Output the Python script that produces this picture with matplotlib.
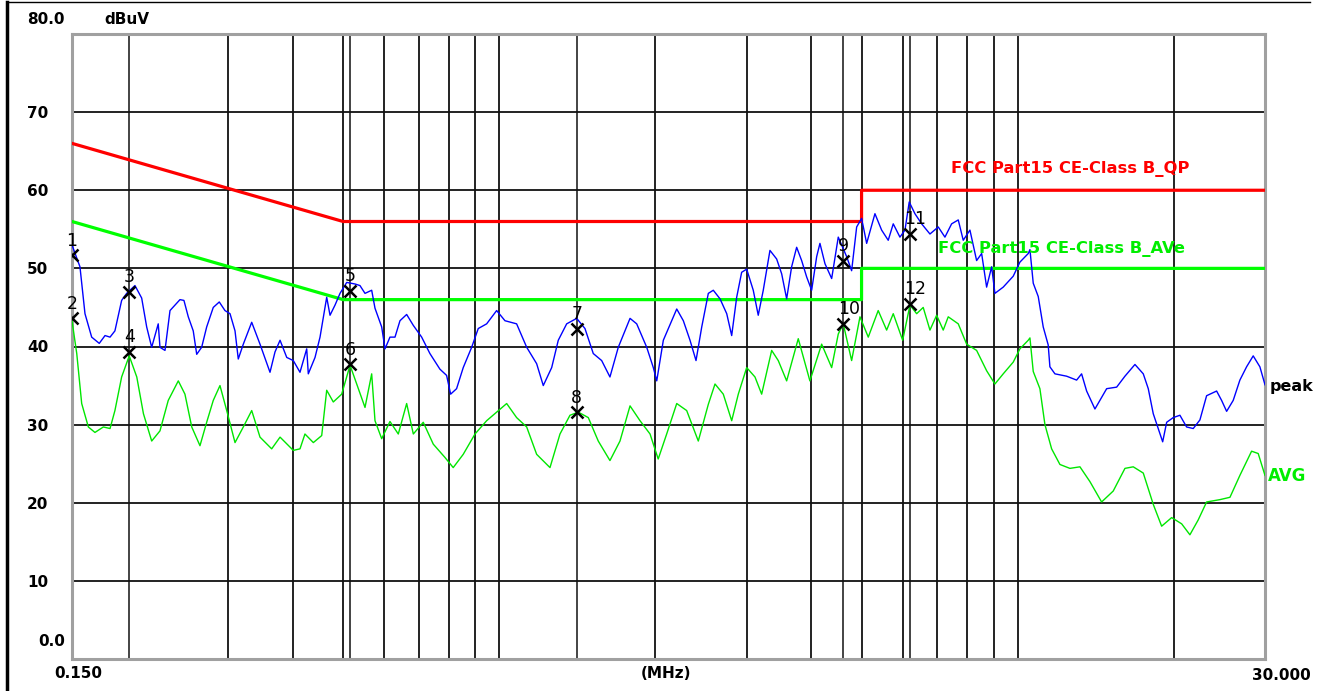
import matplotlib.pyplot as plt
from matplotlib.lines import Line2D
from matplotlib.ticker import NullLocator

peakFreq = [0.150, 0.1554, 0.1589, 0.1637, 0.1693, 0.1737, 0.1776, 0.1815, 0.1870, 0.1912,
            0.1984, 0.2044, 0.2090, 0.2137, 0.2200, 0.2217, 0.2267, 0.2318, 0.2423, 0.2466,
            0.2514, 0.2570, 0.2610, 0.2668, 0.2728, 0.2809, 0.2885, 0.2959, 0.3026, 0.3094,
            0.3139, 0.3210, 0.3332, 0.3457, 0.3614, 0.3695, 0.3779, 0.3893, 0.4008, 0.4129,
            0.4254, 0.4284, 0.4414, 0.4513, 0.4649, 0.4718, 0.4824, 0.4932, 0.5081, 0.5272,
            0.5389, 0.5511, 0.5677, 0.5761, 0.5935, 0.6023, 0.6157, 0.6296, 0.6437, 0.6631,
            0.6830, 0.7088, 0.7352, 0.7686, 0.7918, 0.8061, 0.8277, 0.8525, 0.885, 0.9113,
            0.9459, 0.9889, 1.0261, 1.0806, 1.1300, 1.1811, 1.2164, 1.2627, 1.3002, 1.3496,
            1.4109, 1.4638, 1.5188, 1.5765, 1.6356, 1.6973, 1.7882, 1.8420, 1.9257, 1.9830,
            2.0134, 2.0732, 2.2003, 2.2657, 2.3340, 2.3971, 2.4587, 2.5317, 2.5883, 2.6668,
            2.7473, 2.8086, 2.8715, 2.9357, 3.0020, 3.0909, 3.1601, 3.2313, 3.3288, 3.4293,
            3.5067, 3.5851, 3.6651, 3.7479, 3.8319, 3.9183, 4.0059, 4.0963, 4.1563, 4.2502,
            4.3785, 4.5087, 4.6798, 4.7844, 4.8924, 5.0015, 5.1145, 5.3062, 5.4663, 5.6286,
            5.7556, 5.9292, 6.0632, 6.1790, 6.3372, 6.5297, 6.7746, 7.0289, 7.2408, 7.4589,
            7.6821, 7.8540, 8.0909, 8.3348, 8.5229, 8.7134, 8.9103, 9.0405, 9.3798, 9.8063,
            10.102, 10.482, 10.562, 10.718, 10.958, 11.204, 11.454, 11.541, 11.802, 12.429,
            12.995, 13.286, 13.586, 14.096, 14.411, 14.849, 15.524, 16.106, 16.838, 17.472,
            17.864, 18.263, 18.675, 19.044, 19.385, 19.958, 20.559, 21.179, 21.812, 22.469,
            23.147, 24.200, 24.741, 25.299, 26.049, 26.834, 27.644, 28.469, 29.327, 30.0]
peakLevel = [53.0, 50.2, 44.2, 41.2, 40.4, 41.4, 41.2, 42.0, 45.9, 46.8,
             47.8, 46.2, 42.5, 39.9, 42.9, 39.9, 39.5, 44.6, 46.0, 45.9,
             43.8, 42.0, 39.0, 39.9, 42.5, 45.0, 45.7, 44.6, 44.2, 42.0,
             38.4, 40.3, 43.1, 40.3, 36.7, 39.3, 40.8, 38.6, 38.2, 36.7,
             39.7, 36.5, 38.6, 41.2, 46.3, 44.0, 45.3, 46.8, 48.2, 48.0,
             47.8, 46.8, 47.2, 44.9, 42.5, 39.7, 41.2, 41.2, 43.3, 44.1,
             42.7, 41.2, 39.1, 37.1, 36.3, 33.9, 34.6, 37.3, 39.9, 42.3,
             42.9, 44.6, 43.3, 42.9, 39.9, 37.8, 35.0, 37.3, 40.8, 42.9,
             43.6, 42.3, 39.1, 38.2, 36.1, 39.9, 43.6, 42.9, 39.9, 37.3,
             35.6, 40.8, 44.8, 43.3, 40.8, 38.2, 42.5, 46.8, 47.2, 46.1,
             44.2, 41.4, 46.3, 49.5, 49.9, 47.2, 44.0, 47.2, 52.3, 51.2,
             49.3, 46.1, 50.2, 52.7, 51.0, 48.9, 47.2, 51.5, 53.2, 50.6,
             48.7, 54.0, 51.5, 49.7, 55.3, 56.4, 53.2, 57.0, 54.9, 53.6,
             55.7, 54.0, 54.9, 58.5, 57.0, 55.7, 54.4, 55.3, 54.0, 55.7,
             56.2, 53.6, 54.9, 51.0, 51.9, 47.6, 50.2, 46.8, 47.6, 49.0,
             50.8, 51.9, 52.4, 48.1, 46.4, 42.5, 40.2, 37.4, 36.5, 36.2,
             35.7, 36.5, 34.3, 32.0, 33.1, 34.6, 34.8, 36.2, 37.7, 36.5,
             34.6, 31.4, 29.5, 27.8, 30.3, 30.9, 31.2, 29.7, 29.5, 30.6,
             33.7, 34.3, 33.1, 31.7, 33.1, 35.7, 37.4, 38.8, 37.4, 35.1]

avgFreq = [0.150, 0.1532, 0.1566, 0.1613, 0.1661, 0.1724, 0.1776, 0.1815, 0.1870, 0.1934,
           0.2000, 0.2060, 0.2137, 0.2217, 0.2300, 0.2405, 0.2477, 0.2553, 0.2648, 0.2728,
           0.2809, 0.2894, 0.2982, 0.3094, 0.3210, 0.3332, 0.3457, 0.3641, 0.3779, 0.4008,
           0.4129, 0.4221, 0.4381, 0.4547, 0.4649, 0.4787, 0.4969, 0.5157, 0.5312, 0.5511,
           0.5677, 0.5761, 0.5935, 0.6157, 0.6389, 0.6631, 0.6830, 0.7138, 0.7463, 0.7860,
           0.8154, 0.8525, 0.8982, 0.9459, 0.9889, 1.0339, 1.0806, 1.1300, 1.1811, 1.2532,
           1.3101, 1.3696, 1.4210, 1.4856, 1.5528, 1.6356, 1.7102, 1.7882, 1.8693, 1.9544,
           2.0265, 2.1042, 2.2003, 2.2998, 2.4215, 2.5317, 2.6081, 2.7057, 2.8086, 2.8922,
           3.0020, 3.1145, 3.2084, 3.3543, 3.4538, 3.5851, 3.7747, 3.9750, 4.1880, 4.3785,
           4.5087, 4.6100, 4.7844, 4.9648, 5.1511, 5.3838, 5.5893, 5.7556, 6.0015, 6.1995,
           6.3860, 6.5748, 6.7746, 6.9788, 7.1861, 7.3481, 7.6821, 7.9740, 8.3348, 8.7134,
           9.0405, 9.3798, 9.8063, 10.102, 10.482, 10.562, 10.718, 11.040, 11.289, 11.630,
           12.066, 12.614, 13.188, 13.788, 14.520, 15.289, 16.106, 16.711, 17.472, 18.263,
           18.957, 19.819, 20.720, 21.492, 22.299, 23.147, 24.560, 25.677, 26.834, 28.266,
           29.108, 30.0]
avgLevel = [43.3, 39.1, 32.7, 29.7, 29.0, 29.7, 29.5, 31.8, 36.1, 38.8,
            36.1, 31.4, 27.9, 29.2, 33.1, 35.6, 33.9, 29.7, 27.3, 30.3,
            33.1, 35.0, 31.8, 27.7, 29.7, 31.8, 28.4, 26.9, 28.4, 26.7,
            26.9, 28.8, 27.7, 28.6, 34.4, 32.9, 33.9, 37.6, 35.2, 32.2,
            36.5, 30.5, 28.2, 30.4, 28.8, 32.7, 28.8, 30.3, 27.5, 25.8,
            24.5, 26.2, 28.8, 30.5, 31.6, 32.7, 30.9, 29.7, 26.2, 24.5,
            28.8, 31.2, 31.6, 30.9, 27.9, 25.4, 27.9, 32.4, 30.5, 28.8,
            25.6, 28.8, 32.7, 31.8, 27.9, 32.6, 35.2, 33.9, 30.5, 33.9,
            37.3, 36.1, 33.9, 39.5, 38.2, 35.6, 41.0, 35.6, 40.3, 37.3,
            41.6, 42.9, 38.2, 43.8, 41.2, 44.6, 42.1, 44.2, 40.8, 45.3,
            44.2, 45.0, 42.1, 44.0, 42.1, 43.8, 42.9, 40.3, 39.5, 36.9,
            35.2, 36.5, 38.0, 39.7, 40.8, 41.1, 36.8, 34.6, 30.0, 26.9,
            24.9, 24.4, 24.6, 22.7, 20.1, 21.5, 24.4, 24.6, 23.8, 19.8,
            17.0, 18.1, 17.3, 15.9, 17.8, 20.1, 20.4, 20.7, 23.5, 26.6,
            26.3, 23.5]

qpLimitFreq = [0.15, 0.5, 5.0, 5.0, 30.0]
qpLimitLevel = [66, 56, 56, 60, 60]
avLimitFreq = [0.15, 0.5, 5.0, 5.0, 30.0]
avLimitLevel = [56, 46, 46, 50, 50]

markerNo = ['1', '2', '3', '4', '5', '6', '7', '8', '9', '10', '11', '12']
markerFreq = [0.150, 0.150, 0.1934, 0.1934, 0.5157, 0.5157, 1.411, 1.411, 4.610, 4.610, 6.20, 6.20]
markerLevel = [51.7, 43.6, 47.0, 39.3, 47.1, 37.7, 42.3, 31.6, 51.0, 42.9, 54.4, 45.5]

gridFreq = [0.3, 0.4, 0.5, 0.6, 0.7, 0.8, 0.9, 1, 2, 3, 4, 5, 6, 7, 8, 9, 10, 20]
yTicks = [10, 20, 30, 40, 50, 60, 70]

W, H = 1323, 691

fig = plt.figure(figsize=(W / 100, H / 100), dpi=100)
ax = fig.add_axes([72 / W, 1 - 659 / H, (1265 - 72) / W, (659 - 34) / H])
ax.set_xscale('log')
ax.set_xlim(0.15, 30)
ax.set_ylim(0, 80)
ax.xaxis.set_major_locator(NullLocator())
ax.xaxis.set_minor_locator(NullLocator())

for f in gridFreq:
    ax.axvline(f, color='#111111', lw=1.3, zorder=1)
for f in sorted(set(markerFreq)):
    ax.axvline(f, color='#111111', lw=1.1, zorder=1)
for y in yTicks:
    ax.axhline(y, color='#111111', lw=1.3, zorder=1)

ax.plot(qpLimitFreq, qpLimitLevel, color='#ff0000', lw=2.3, zorder=3)
ax.plot(avLimitFreq, avLimitLevel, color='#00ff00', lw=2.3, zorder=3)
ax.plot(peakFreq, peakLevel, color='#0000ff', lw=1.0, zorder=4)
ax.plot(avgFreq, avgLevel, color='#00e600', lw=1.0, zorder=4)

ax.plot(markerFreq, markerLevel, 'x', color='black', ms=9, mew=1.8, zorder=5)
for i in range(len(markerNo)):
    dx = 4 if len(markerNo[i]) > 1 else 0
    ax.annotate(markerNo[i], (markerFreq[i], markerLevel[i]), xytext=(dx, 10.5),
                textcoords='offset points', ha='center', va='center',
                fontsize=12.5, color='black', zorder=6)

ax.set_yticks(yTicks)
ax.set_yticklabels([str(y) for y in yTicks], fontsize=11, fontweight='bold')
ax.tick_params(axis='y', length=0, pad=17)

for s in ax.spines.values():
    s.set_color('#a0a0a0')
    s.set_linewidth(2.2)

ax.text(951 / W, 1 - 169 / H, 'FCC Part15 CE-Class B_QP', transform=fig.transFigure,
        color='#ff0000', fontsize=11.8, fontweight='bold', va='center', ha='left')
ax.text(938 / W, 1 - 249 / H, 'FCC Part15 CE-Class B_AVe', transform=fig.transFigure,
        color='#00ee00', fontsize=11.8, fontweight='bold', va='center', ha='left', zorder=6)
fig.text(1270 / W, 1 - 386 / H, 'peak', color='black', fontsize=11.5, fontweight='bold', va='center')
fig.text(1268 / W, 1 - 476 / H, 'AVG', color='#00ee00', fontsize=12, fontweight='bold', va='center')

fig.text(65 / W, 1 - 20 / H, '80.0', fontsize=11, fontweight='bold', ha='right', va='center')
fig.text(127 / W, 1 - 20 / H, 'dBuV', fontsize=11, fontweight='bold', ha='center', va='center')
fig.text(65 / W, 1 - 641 / H, '0.0', fontsize=11, fontweight='bold', ha='right', va='center')
fig.text(78 / W, 1 - 673 / H, '0.150', fontsize=11, fontweight='bold', ha='center', va='center')
fig.text(666 / W, 1 - 673 / H, '(MHz)', fontsize=11, fontweight='bold', ha='center', va='center')
fig.text(1281 / W, 1 - 675 / H, '30.000', fontsize=11, fontweight='bold', ha='center', va='center')

fig.add_artist(Line2D([7 / W, 7 / W], [0, 1 - 2 / H], color='black', lw=2.5))
fig.add_artist(Line2D([7 / W, 1310 / W], [1 - 2 / H, 1 - 2 / H], color='black', lw=1))

fig.savefig('out.png', dpi=100)
